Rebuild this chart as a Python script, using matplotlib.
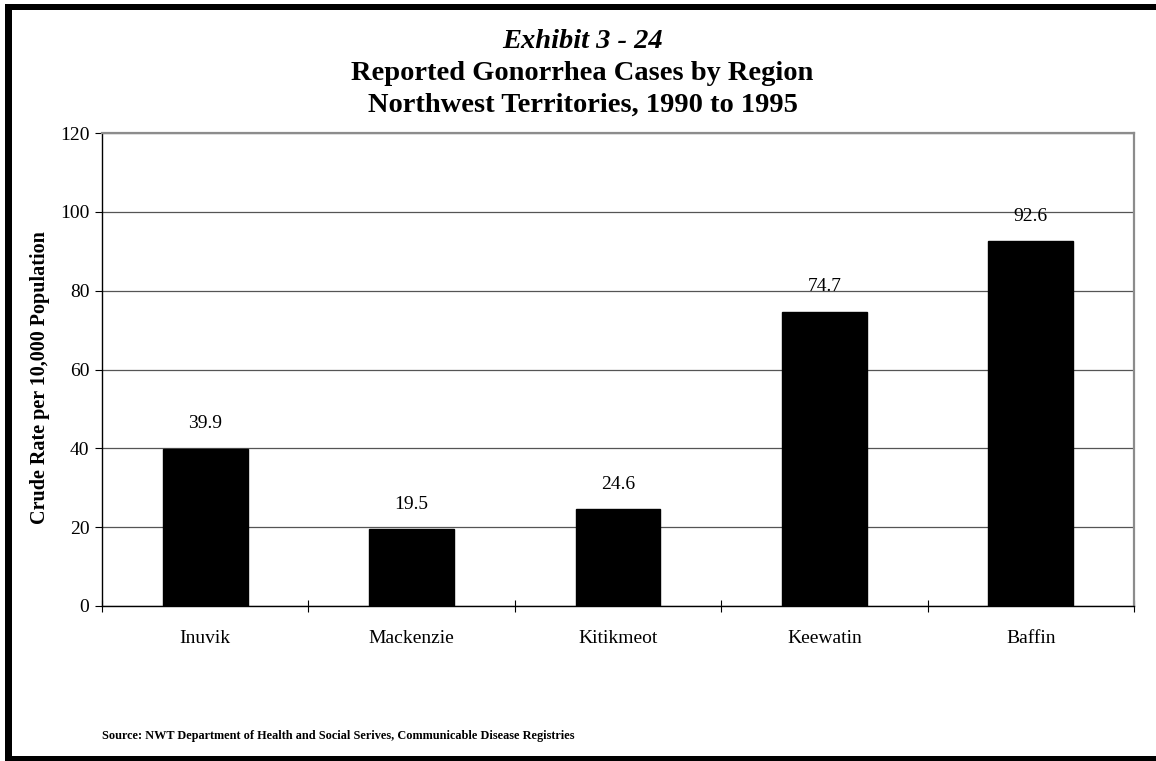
import matplotlib
matplotlib.use("Agg")
import numpy as np
from matplotlib import pyplot as plt
from matplotlib.patches import Rectangle

regions = ["Inuvik", "Mackenzie", "Kitikmeot", "Keewatin", "Baffin"]
rates = [39.9, 19.5, 24.6, 74.7, 92.6]
y_ticks = [0, 20, 40, 60, 80, 100, 120]

title_lines = [
    "Exhibit 3 - 24",
    "Reported Gonorrhea Cases by Region",
    "Northwest Territories, 1990 to 1995",
]
y_label = "Crude Rate per 10,000 Population"
source_note = "Source: NWT Department of Health and Social Serives, Communicable Disease Registries"

plt.rcParams["font.family"] = ["Liberation Serif", "DejaVu Serif"]

W, H = 1156, 761
fig = plt.figure(figsize=(W / 100, H / 100), dpi=100)


def px_rect(x0, y0, x1, y1):
    # rectangle given in pixel coordinates measured from the top-left corner
    return Rectangle((x0 / W, 1 - y1 / H), (x1 - x0) / W, (y1 - y0) / H,
                     transform=fig.transFigure, color="black", lw=0)


# heavy frame around the exhibit
fig.add_artist(px_rect(5, 4, W, 10))
fig.add_artist(px_rect(5, 4, 12, 761))
fig.add_artist(px_rect(5, 756, W, 761))

ax = fig.add_axes([102 / W, 1 - 606 / H, (1134 - 102) / W, (606 - 133) / H])

x = np.arange(len(regions))
ax.bar(x, rates, width=0.41, color="black", edgecolor="black", zorder=3)
for xi, v in zip(x, rates):
    ax.annotate(f"{v:.1f}", (xi, v), xytext=(0, 18), textcoords="offset points",
                ha="center", va="center", fontsize=14)

ax.set_xlim(-0.5, len(regions) - 0.5)
ax.set_ylim(0, 120)
ax.set_yticks(y_ticks)
ax.tick_params(axis="y", direction="out", length=5, width=0.8, labelsize=14, pad=4)
ax.yaxis.grid(True, color="#555555", linewidth=0.9, zorder=0)

# boundary ticks between categories, labels centred under each bar
ax.set_xticks(np.arange(len(regions) + 1) - 0.5)
ax.set_xticklabels([])
ax.tick_params(axis="x", which="major", direction="inout", length=9, width=0.8)
ax.set_xticks(x, minor=True)
ax.set_xticklabels(regions, minor=True)
ax.tick_params(axis="x", which="minor", length=0, labelsize=14, pad=17)

for side in ("left", "bottom"):
    ax.spines[side].set_color("black")
    ax.spines[side].set_linewidth(1.0)
for side in ("top", "right"):
    ax.spines[side].set_color("#8c8c8c")
    ax.spines[side].set_linewidth(1.6)

fig.text(40 / W, 1 - 378 / H, y_label, rotation=90, ha="center", va="center",
         fontsize=14.5, fontweight="bold")

fig.text(0.504, 1 - 41 / H, title_lines[0], ha="center", va="center",
         fontsize=20.5, fontweight="bold", fontstyle="italic")
fig.text(0.504, 1 - 74 / H, title_lines[1], ha="center", va="center",
         fontsize=20.5, fontweight="bold")
fig.text(0.504, 1 - 105 / H, title_lines[2], ha="center", va="center",
         fontsize=20.5, fontweight="bold")

fig.text(102 / W, 1 - 736 / H, source_note, ha="left", va="center",
         fontsize=8.8, fontweight="bold")

fig.savefig("out.png", dpi=100, facecolor="white")
